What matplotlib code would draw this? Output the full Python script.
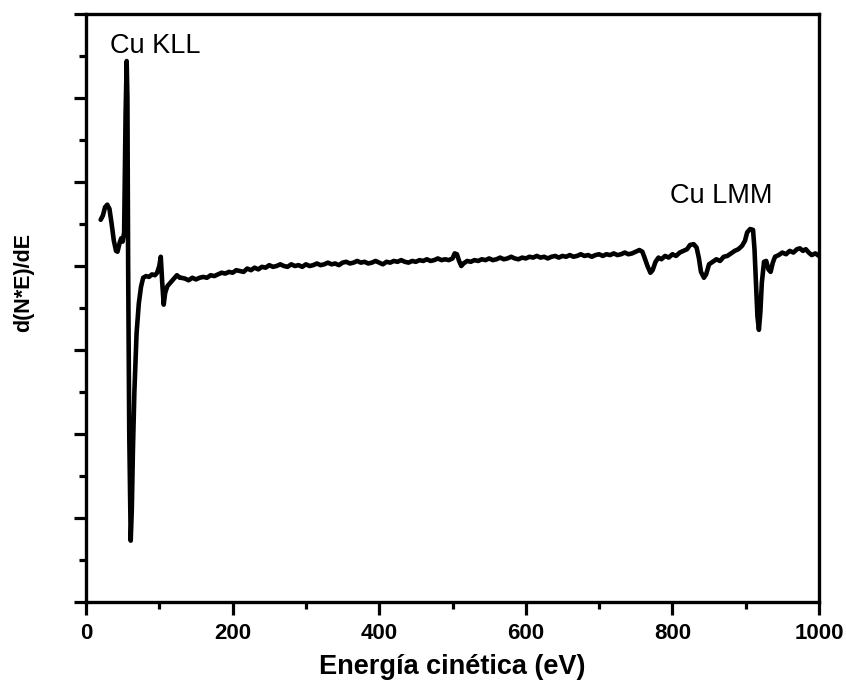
import matplotlib
matplotlib.use("Agg")
import matplotlib.pyplot as plt
from matplotlib.ticker import MultipleLocator, NullFormatter

# Kinetic energy (eV) and derivative signal (arbitrary units)
energy = [
    20, 23, 26, 29, 32, 35, 38, 41, 43, 46, 48, 50, 52, 54, 55.5, 56.5, 57.5, 59, 61,
    62.5, 64, 66, 69, 72, 75, 78, 82, 86, 90, 94, 97, 100, 102, 104, 106, 108, 111,
    115, 119, 124, 128,
    130, 135, 140, 145, 150, 155, 160, 165, 170, 175, 180, 185, 190, 195, 200,
    205, 210, 215, 220, 225, 230, 235, 240, 245, 250, 255, 260, 265, 270, 275,
    280, 285, 290, 295, 300, 305, 310, 315, 320, 325, 330, 335, 340, 345, 350,
    355, 360, 365, 370, 375, 380, 385, 390, 395, 400, 405, 410, 415, 420, 425,
    430, 435, 440, 445, 450, 455, 460, 465, 470, 475, 480, 485, 490, 495, 500,
    503, 506, 509, 512, 515, 520, 525, 530, 535, 540, 545, 550, 555, 560, 565,
    570, 575, 580, 585, 590, 595, 600, 605, 610, 615, 620, 625, 630, 635, 640,
    645, 650, 655, 660, 665, 670, 675, 680, 685, 690, 695, 700, 705, 710, 715,
    720, 725, 730, 735, 740, 745, 750, 755, 759, 762, 766, 770, 773, 777, 781,
    785, 790, 795, 800, 805, 810, 815, 820, 824, 829, 833, 836, 839, 843, 846,
    850, 855, 860, 865, 870, 875, 880, 885, 890, 895, 899, 902, 906, 910, 912,
    914, 916, 918, 920, 922, 925, 928, 931, 934, 937, 940, 945, 950, 955, 960,
    965, 970, 974, 978, 982, 986, 990, 995, 1000,
]
signal = [
    4.55, 4.60, 4.70, 4.73, 4.68, 4.50, 4.30, 4.18, 4.17, 4.28, 4.33, 4.29, 4.40, 5.80, 6.44, 6.00, 4.00, 2.00, 0.73,
    1.10, 1.80, 2.50, 3.20, 3.55, 3.75, 3.86, 3.88, 3.87, 3.90, 3.89, 3.92, 4.00, 4.11, 3.80, 3.54, 3.68, 3.76,
    3.80, 3.84, 3.89, 3.86,
    3.86, 3.85, 3.83, 3.86, 3.84, 3.86, 3.87, 3.86, 3.89, 3.88, 3.90, 3.92, 3.91, 3.93, 3.92,
    3.95, 3.94, 3.93, 3.97, 3.95, 3.98, 3.96, 3.99, 3.98, 4.01, 3.99, 4.00, 4.02, 4.00, 3.99,
    4.02, 4.00, 4.01, 3.99, 4.02, 4.00, 4.01, 4.03, 4.01, 4.02, 4.04, 4.02, 4.03, 4.01, 4.04,
    4.05, 4.03, 4.04, 4.06, 4.04, 4.05, 4.03, 4.04, 4.06, 4.04, 4.02, 4.05, 4.04, 4.06, 4.05,
    4.07, 4.05, 4.04, 4.06, 4.05, 4.07, 4.06, 4.08, 4.06, 4.07, 4.09, 4.07, 4.08, 4.07, 4.09,
    4.15, 4.14, 4.06, 4.00, 4.03, 4.06, 4.05, 4.07, 4.06, 4.08, 4.07, 4.09, 4.07, 4.08, 4.10,
    4.08, 4.09, 4.11, 4.09, 4.08, 4.10, 4.09, 4.11, 4.10, 4.12, 4.10, 4.11, 4.09, 4.11, 4.12,
    4.10, 4.12, 4.11, 4.13, 4.11, 4.12, 4.14, 4.12, 4.13, 4.11, 4.13, 4.14, 4.12, 4.14, 4.13,
    4.15, 4.13, 4.14, 4.16, 4.14, 4.15, 4.17, 4.19, 4.17, 4.10, 4.00, 3.92, 3.95, 4.05, 4.10,
    4.08, 4.12, 4.10, 4.14, 4.12, 4.16, 4.18, 4.20, 4.25, 4.26, 4.22, 4.10, 3.93, 3.86, 3.90,
    4.02, 4.05, 4.08, 4.06, 4.11, 4.12, 4.15, 4.18, 4.20, 4.24, 4.30, 4.40, 4.44, 4.43, 4.20,
    3.80, 3.40, 3.24, 3.45, 3.80, 4.05, 4.06, 3.96, 3.93, 4.04, 4.11, 4.13, 4.16, 4.14, 4.18,
    4.16, 4.20, 4.21, 4.18, 4.20, 4.16, 4.13, 4.15, 4.12,
]

x_ticks = [0, 200, 400, 600, 800, 1000]
x_label = "Energía cinética (eV)"
y_label = "d(N*E)/dE"
peak_labels = ["Cu KLL", "Cu LMM"]
peak_label_pos = [(33, 6.54), (797, 4.75)]

sans = ["Liberation Sans", "DejaVu Sans"]

fig = plt.figure(figsize=(8.46, 6.94), dpi=100)
ax = fig.add_axes([86 / 846, 1 - 602 / 694, 733 / 846, 588 / 694])

ax.plot(energy, signal, color="black", lw=3.3, solid_joinstyle="round", solid_capstyle="round")

ax.set_xlim(0, 1000)
ax.set_ylim(0, 7)

ax.set_xticks(x_ticks)
ax.set_xticklabels([str(t) for t in x_ticks], family=sans, fontweight="bold", fontsize=16)
ax.xaxis.set_minor_locator(MultipleLocator(100))
ax.yaxis.set_major_locator(MultipleLocator(1))
ax.yaxis.set_minor_locator(MultipleLocator(0.5))
ax.yaxis.set_major_formatter(NullFormatter())

ax.tick_params(which="major", direction="out", length=9, width=2.3, pad=6)
ax.tick_params(which="minor", direction="out", length=5, width=2.3)
ax.tick_params(top=False, right=False)
for s in ax.spines.values():
    s.set_linewidth(2.4)

ax.set_xlabel(x_label, family=sans, fontweight="bold", fontsize=19.5)
ax.xaxis.set_label_coords(0.5, -0.088)
ax.set_ylabel(y_label, family=sans, fontweight="bold", fontsize=15.5, va="center")
ax.yaxis.set_label_coords(-0.0846, 0.544)

for txt, (tx, ty) in zip(peak_labels, peak_label_pos):
    ax.text(tx, ty, txt, family=sans, fontsize=19.5, ha="left", va="baseline")

fig.savefig("out.png", dpi=100)
